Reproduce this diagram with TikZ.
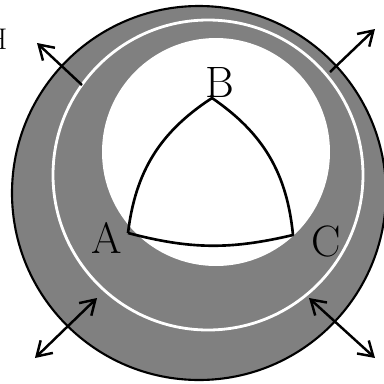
\documentclass[tikz,border=0pt]{standalone}
\usepackage{tikz}
\usetikzlibrary{arrows.meta}
\definecolor{ringgray}{HTML}{808080}

\begin{document}
\begin{tikzpicture}[
  x=0.2mm, y=-0.2mm,
  >={Straight Barb[length=8pt,width=10pt]},
  vertexlabel/.style={inner sep=0pt, font=\fontsize{25}{25}\selectfont},
  edgeline/.style={line width=1.5pt},
  flowarrow/.style={line width=1.4pt}
]
  \useasboundingbox (0,0) rectangle (384,384);

  % Outer grey disc with white ring and inner white disc
  \fill[ringgray, draw=black, line width=1.2pt] (199,193) circle[radius=187];
  \draw[white, line width=1.6pt] (208,175) circle[radius=155];
  \fill[white] (216,152) circle[radius=114];

  % Spherical triangle
  \coordinate (A) at (128,233);
  \coordinate (B) at (212,98);
  \coordinate (C) at (293,235);
  \draw[edgeline, line join=round] (A) to[bend left=25] (B) to[bend left=25] (C) to[bend left=14] (A);

  \node[vertexlabel] (labA) at (107,238) {A};
  \node[vertexlabel] (labB) at (220,82) {B};
  \node[vertexlabel] (labC) at (326,241) {C};
  \node[inner sep=0pt, font=\fontsize{17}{17}\selectfont] (labH) at (-3,39) {H};

  % Arrows through the rim
  \coordinate (tl0) at (82,85);   \coordinate (tl1) at (37,43);
  \coordinate (tr0) at (330,72);  \coordinate (tr1) at (375,29);
  \coordinate (bl0) at (97,298);  \coordinate (bl1) at (35,358);
  \coordinate (br0) at (309,298); \coordinate (br1) at (375,358);
  \draw[flowarrow, ->] (tl0) -- (tl1);
  \draw[flowarrow, ->] (tr0) -- (tr1);
  \draw[flowarrow, <->] (bl0) -- (bl1);
  \draw[flowarrow, <->] (br0) -- (br1);

\end{tikzpicture}
\end{document}
